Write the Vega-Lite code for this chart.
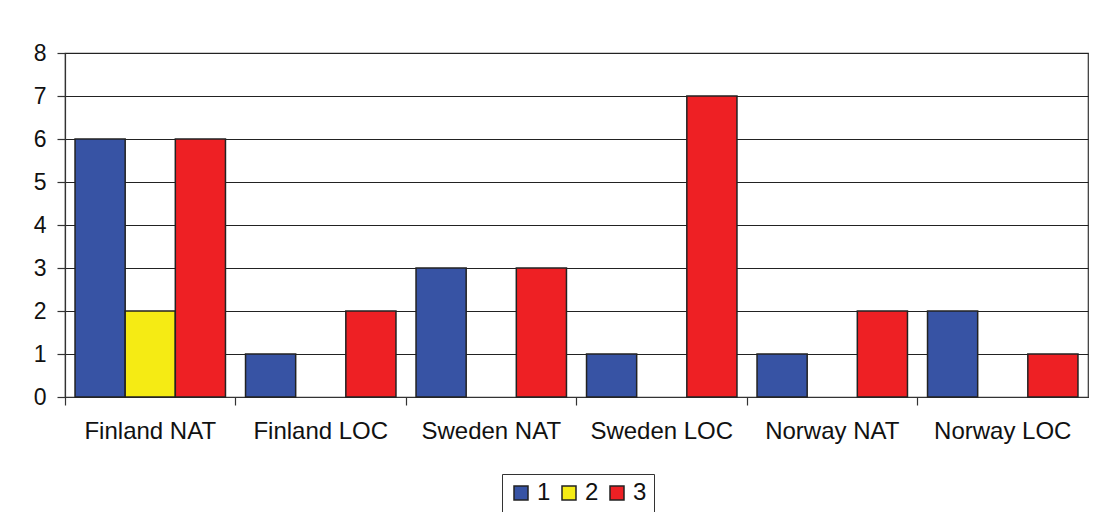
{
  "$schema": "https://vega.github.io/schema/vega-lite/v6.json",
  "width": 1023,
  "height": 344,
  "autosize": {"type": "none"},
  "padding": {"left": 65, "top": 53, "right": 6, "bottom": 115},
  "background": "white",
  "config": {
    "font": "Liberation Sans",
    "view": {"stroke": "#333", "strokeWidth": 1.2},
    "axis": {"labelFont": "Liberation Sans", "labelColor": "#111", "domainColor": "#333", "tickColor": "#333", "gridColor": "#222", "title": null}
  },
  "data": {
    "values": [
      {"cat": "Finland NAT", "s": "1", "v": 6},
      {"cat": "Finland NAT", "s": "2", "v": 2},
      {"cat": "Finland NAT", "s": "3", "v": 6},
      {"cat": "Finland LOC", "s": "1", "v": 1},
      {"cat": "Finland LOC", "s": "3", "v": 2},
      {"cat": "Sweden NAT", "s": "1", "v": 3},
      {"cat": "Sweden NAT", "s": "3", "v": 3},
      {"cat": "Sweden LOC", "s": "1", "v": 1},
      {"cat": "Sweden LOC", "s": "3", "v": 7},
      {"cat": "Norway NAT", "s": "1", "v": 1},
      {"cat": "Norway NAT", "s": "3", "v": 2},
      {"cat": "Norway LOC", "s": "1", "v": 2},
      {"cat": "Norway LOC", "s": "3", "v": 1}
    ]
  },
  "mark": {"type": "bar", "stroke": "#222", "strokeWidth": 1.5},
  "encoding": {
    "x": {
      "field": "cat", "type": "nominal", "sort": null,
      "scale": {"paddingInner": 0, "paddingOuter": 0},
      "axis": {"labelAngle": 0, "labelFontSize": 24, "bandPosition": 0, "tickSize": 8, "labelPadding": 14, "domainWidth": 1.2, "tickWidth": 1.2}
    },
    "xOffset": {
      "field": "s", "type": "nominal",
      "scale": {"domain": ["1", "2", "3"], "paddingInner": 0, "paddingOuter": 0.2}
    },
    "y": {
      "field": "v", "type": "quantitative",
      "scale": {"domain": [0, 8]},
      "axis": {"tickCount": 8, "labelFontSize": 23, "tickSize": 8, "labelPadding": 11, "grid": true, "gridWidth": 1.2, "domainWidth": 1.2, "tickWidth": 1.2}
    },
    "color": {
      "field": "s", "type": "nominal",
      "scale": {"domain": ["1", "2", "3"], "range": ["#3753A4", "#F5EB14", "#EE2024"]},
      "legend": {
        "title": null, "orient": "none", "legendX": 437, "legendY": 421, "direction": "horizontal",
        "symbolType": "square", "symbolSize": 196, "symbolStrokeColor": "#222", "symbolStrokeWidth": 1.5,
        "labelFontSize": 24, "labelColor": "#111", "labelOffset": 4, "columnPadding": 6,
        "strokeColor": "#333", "padding": 7
      }
    }
  }
}
